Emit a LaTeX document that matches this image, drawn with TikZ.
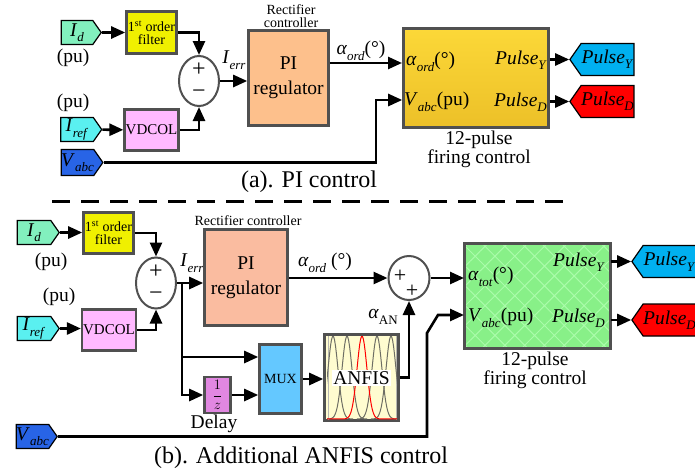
\documentclass[tikz,border=0pt]{standalone}
\usepackage{fontspec}
\setmainfont{Liberation Serif}
\usetikzlibrary{shapes.geometric,shapes.symbols,arrows.meta,patterns.meta}
\definecolor{cBord}{RGB}{80,80,80}
\definecolor{cId}{RGB}{130,240,190}
\definecolor{cIref}{RGB}{90,240,240}
\definecolor{cVabc}{RGB}{40,100,230}
\definecolor{cFilt}{RGB}{240,240,0}
\definecolor{cVdcol}{RGB}{255,185,255}
\definecolor{cPIa}{RGB}{253,192,140}
\definecolor{cPIb}{RGB}{250,188,160}
\definecolor{cFirA1}{RGB}{252,216,56}
\definecolor{cFirA2}{RGB}{236,192,40}
\definecolor{cFirB}{RGB}{136,240,136}
\definecolor{cHatch}{RGB}{170,252,170}
\definecolor{cPY}{RGB}{0,176,240}
\definecolor{cPD}{RGB}{255,0,0}
\definecolor{cMux}{RGB}{100,200,255}
\definecolor{cDelay}{RGB}{225,135,225}
\definecolor{cAnfis}{RGB}{255,252,208}
\definecolor{cGauss}{RGB}{110,110,100}
\newcommand\fb{\rmfamily\fontsize{19.5}{22}\selectfont}
\newcommand\fsm{\rmfamily\fontsize{14}{13}\selectfont}
\newcommand\fpm{\rmfamily\fontsize{24}{24}\selectfont}
\newcommand\sbs[2]{\textit{#1}\raisebox{-0.28em}{\fontsize{13}{13}\selectfont\textit{#2}}}
\begin{document}
\begin{tikzpicture}[x=1pt,y=-1pt,font=\fb,
  blk/.style={draw=cBord, line width=2.6pt, inner sep=1pt, align=center},
  tagR/.style={signal, signal to=east, signal pointer angle=110, draw=black, line width=1.2pt, inner sep=0pt, minimum height=24pt},
  tagL/.style={signal, signal to=west, signal pointer angle=110, draw=black, line width=1.2pt, inner sep=0pt, minimum height=32pt, minimum width=64pt},
  sumnode/.style={ellipse, draw=cBord, line width=2pt, fill=white, inner sep=0pt},
  conn/.style={line width=2.6pt, -{Triangle[length=14pt,width=12pt]}},
  wire/.style={line width=2.6pt},
  lbl/.style={inner sep=0pt},
  signs/.style={inner sep=0pt, align=center, font=\rmfamily\fontsize{24}{22}\selectfont},
  gauss/.style={line width=1pt}]
\useasboundingbox (0,0) rectangle (695,474);

% ---------------- (a) ----------------
\node[tagR, fill=cId, minimum width=40pt] (Ida) at (77,32.5) {\sbs{I}{d}};
\node[lbl] (pua1) at (73,58) {(pu)};
\node[blk, fill=cFilt, minimum width=50pt, minimum height=42pt, font=\fsm] (filta) at (151.5,32.5) {1\textsuperscript{st} order\\filter};
\node[sumnode, minimum width=40pt, minimum height=50pt] (suma) at (199,81) {};
\node[signs] (sumasg) at (199,81) {+\\−};
\node[lbl] (pua2) at (73,103) {(pu)};
\node[tagR, fill=cIref, minimum width=41pt] (Irefa) at (77,129.5) {\sbs{I}{ref}};
\node[blk, fill=cVdcol, minimum width=50pt, minimum height=41pt, font=\rmfamily\fontsize{15}{15}\selectfont] (vdcola) at (151.5,130) {VDCOL};
\node[tagR, fill=cVabc, minimum width=39pt, minimum height=26pt] (Vabca) at (77.5,162.5) {\sbs{V}{abc}};
\node[lbl] (ierra) at (234,60) {\sbs{I}{err}};
\node[blk, fill=cPIa, minimum width=80pt, minimum height=95pt, font=\rmfamily\fontsize{19.5}{25}\selectfont] (PIa) at (288.5,78) {PI\\regulator};
\node[lbl, font=\fsm, align=center] (rca) at (291,16.5) {Rectifier\\controller};
\node[blk, top color=cFirA1, bottom color=cFirA2, minimum width=145pt, minimum height=99pt] (fira) at (476,78) {};
\node[lbl, anchor=west] (fa1) at (406,62) {\sbs{α}{ord}(°)};
\node[lbl, anchor=west] (fa2) at (404,102) {\sbs{V}{abc}(pu)};
\node[lbl, anchor=east] (fa3) at (547,60) {\sbs{Pulse}{Y}};
\node[lbl, anchor=east] (fa4) at (547,102) {\sbs{Pulse}{D}};
\node[lbl, align=center, font=\rmfamily\fontsize{19.5}{15}\selectfont] (fa5) at (479,149.5) {12-pulse\\firing control};
\node[tagL, fill=cPY] (PYa) at (607.5,59.5) {\sbs{Pulse}{Y}};
\node[tagL, fill=cPD] (PDa) at (607.5,101.5) {\sbs{Pulse}{D}};
\node[lbl] (alab) at (361,51) {\sbs{α}{ord}(°)};
\node[lbl, font=\fpm] (capa) at (309,182) {(a). PI control};
\coordinate (aord) at (402,63);
\coordinate (va1) at (376,100);

\draw[conn] (Ida) -- (filta);
\draw[conn] (filta.east) -| (suma.north);
\draw[conn] (Irefa) -- (vdcola);
\draw[conn] (vdcola.east) -| (suma.south);
\draw[conn] (suma.east) -- (suma.east -| PIa.west);
\draw[conn] (PIa.east |- aord) -- (aord);
\draw[conn] (Vabca.east) -| (va1) -- (va1 -| fira.west);
\draw[conn] (fira.east |- PYa.west) -- (PYa.west);
\draw[conn] (fira.east |- PDa.west) -- (PDa.west);

% separator
\draw[line width=3pt, dash pattern=on 18pt off 11pt] (52,201) -- (572,201);

% ---------------- (b) ----------------
\node[tagR, fill=cId, minimum width=42pt] (Idb) at (34,232.5) {\sbs{I}{d}};
\node[lbl] (pub1) at (51,262) {(pu)};
\node[blk, fill=cFilt, minimum width=50pt, minimum height=41pt, font=\fsm] (filtb) at (108.5,233) {1\textsuperscript{st} order\\filter};
\node[sumnode, minimum width=40pt, minimum height=51pt] (sumb) at (156,283) {};
\node[signs] (sumbsg) at (156,283) {+\\−};
\node[lbl] (pub2) at (59,297) {(pu)};
\node[tagR, fill=cIref, minimum width=42pt] (Irefb) at (34,328.5) {\sbs{I}{ref}};
\node[blk, fill=cVdcol, minimum width=51pt, minimum height=41pt, font=\rmfamily\fontsize{15}{15}\selectfont] (vdcolb) at (109,330) {VDCOL};
\node[tagR, fill=cVabc, minimum width=39pt, minimum height=24pt] (Vabcb) at (32.5,436.5) {\sbs{V}{abc}};
\node[lbl] (ierrb) at (192,263) {\sbs{I}{err}};
\node[blk, fill=cPIb, minimum width=83pt, minimum height=96pt, font=\rmfamily\fontsize{19.5}{25}\selectfont] (PIb) at (246,277.5) {PI\\regulator};
\node[lbl, font=\fsm] (rcb) at (248,221) {Rectifier controller};
\node[lbl] (blab) at (325,263) {\sbs{α}{ord} (°)};
\node[sumnode, minimum width=41pt, minimum height=44pt] (sum2) at (409,278) {};
\node[lbl, font=\rmfamily\fontsize{22}{22}\selectfont] (s2p1) at (400,276) {+};
\node[lbl, font=\rmfamily\fontsize{22}{22}\selectfont] (s2p2) at (412,291) {+};
\node[lbl] (alan) at (383,317) {\textit{α}\raisebox{-0.28em}{\fontsize{13}{13}\selectfont AN}};
\node[blk, fill=cMux, minimum width=42pt, minimum height=69pt, font=\fsm] (mux) at (280.5,379) {MUX};
\node[blk, fill=cDelay, minimum width=26pt, minimum height=36pt, inner sep=0pt, font=\rmfamily\fontsize{14}{14}\selectfont] (delay) at (217.5,395) {$\displaystyle\frac{1}{z}$};
\node[lbl] (dlab) at (214,424) {Delay};
\node[blk, fill=cAnfis, minimum width=74pt, minimum height=86pt] (anfis) at (361.5,377.5) {};
\begin{scope}
  \clip (327,336) rectangle (397,420);
  \draw[cGauss!50, line width=0.8pt] (328,336) -- (328,420) (396,336) -- (396,420);
  \foreach \c in {333,347,377,391}{
    \draw[gauss, cGauss] plot[domain=\c-20:\c+20, samples=40] (\x,{419-83*exp(max(-9,-1*((\x-\c)/7)*((\x-\c)/7)))});
  }
  \draw[gauss, red] plot[domain=327:397, samples=80] (\x,{419-83*exp(max(-9,-1*((\x-362)/7)*((\x-362)/7)))});
\end{scope}
\node[fill=white, inner sep=1.5pt] (anfisl) at (361.5,378) {ANFIS};
\node[blk, preaction={fill=cFirB}, pattern={Hatch[angle=45,distance=14pt,line width=1pt]}, pattern color=cHatch, minimum width=146pt, minimum height=105pt] (firb) at (537.5,296) {};
\node[lbl, anchor=west] (fb1) at (468,277) {\sbs{α}{tot}(°)};
\node[lbl, anchor=west] (fb2) at (468,318) {\sbs{V}{abc}(pu)};
\node[lbl, anchor=east] (fb3) at (605,262) {\sbs{Pulse}{Y}};
\node[lbl, anchor=east] (fb4) at (605,318) {\sbs{Pulse}{D}};
\node[lbl, align=center, font=\rmfamily\fontsize{19.5}{15}\selectfont] (fb5) at (535,370.5) {12-pulse\\firing control};
\node[tagL, fill=cPY] (PYb) at (669.5,261.5) {\sbs{Pulse}{Y}};
\node[tagL, fill=cPD] (PDb) at (669.5,320) {\sbs{Pulse}{D}};
\node[lbl, font=\fpm] (capb) at (301,458) {(b). Additional ANFIS control};
\coordinate (jn) at (182,283);
\coordinate (jm) at (182,357);
\coordinate (vb1) at (427,333);
\coordinate (vb2) at (438,315);

\draw[conn] (Idb.east) -- (Idb.east -| filtb.west);
\draw[conn] (filtb.east) -| (sumb.north);
\draw[conn] (Irefb.east) -- (Irefb.east -| vdcolb.west);
\draw[conn] (vdcolb.east) -| (sumb.south);
\draw[wire] (sumb.east) -- (jn);
\draw[conn] (jn) -- (jn -| PIb.west);
\draw[conn] (jn) |- (delay.west);
\draw[conn] (jm) -- (jm -| mux.west);
\draw[conn] (delay.east) -- (delay.east -| mux.west);
\draw[conn] (mux.east) -- (mux.east -| anfis.west);
\draw[conn] (anfis.east) -| (sum2.south);
\draw[conn] (PIb.east |- sum2.west) -- (sum2.west);
\draw[conn] (sum2.east) -- (sum2.east -| firb.west);
\draw[conn] (Vabcb.east) -| (vb1) -- (vb2) -- (vb2 -| firb.west);
\draw[conn] (firb.east |- PYb.west) -- (PYb.west);
\draw[conn] (firb.east |- PDb.west) -- (PDb.west);
\end{tikzpicture}
\end{document}
